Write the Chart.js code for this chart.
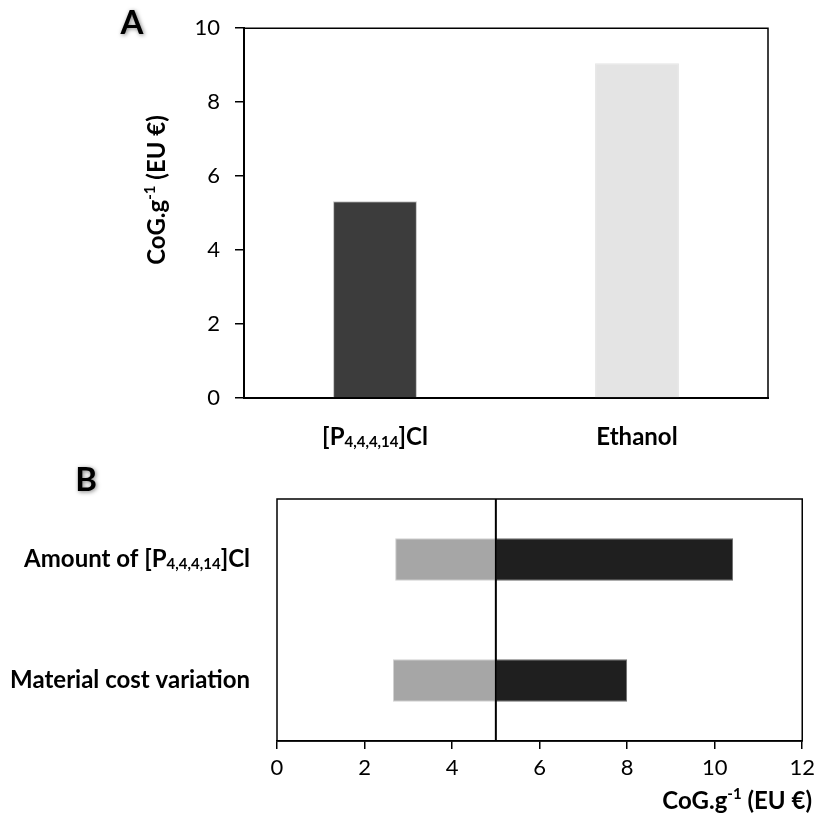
<!DOCTYPE html>
<html>
<head>
<meta charset="utf-8">
<script src="https://cdn.jsdelivr.net/npm/chart.js@4.4.0/dist/chart.umd.min.js"></script>
<style>
  html, body { margin: 0; padding: 0; background: #fff; }
  #wrap { position: relative; width: 821px; height: 820px; }
  .box { position: absolute; left: 0; width: 821px; }
  #boxA { top: 0; height: 460px; }
  #boxB { top: 460px; height: 360px; }
</style>
</head>
<body>
<div id="wrap">
  <div class="box" id="boxA"><canvas id="chartA"></canvas></div>
  <div class="box" id="boxB"><canvas id="chartB"></canvas></div>
</div>
<script>
// panel A - cost of goods per gram
const costLabels = ['[P_{4,4,4,14}]Cl', 'Ethanol'];
const costValues = [5.32, 9.05];
const costColors = ['#3c3c3c', '#e4e4e4'];
const costTicks = [0, 2, 4, 6, 8, 10];

// panel B - sensitivity (low / high around the base case)
const sensLabels = ['Amount of [P_{4,4,4,14}]Cl', 'Material cost variation'];
const sensBase = 5;
const sensLow = [2.7, 2.65];
const sensHigh = [10.42, 8.0];
const sensTicks = [0, 2, 4, 6, 8, 10, 12];

const axisTitle = 'CoG.g^{-1} (EU €)';

Chart.defaults.font.family = 'Lato';
Chart.defaults.color = '#000';

// split "text_{sub}" / "text^{sup}" into runs
function splitRuns(str) {
  const out = [];
  const re = /([_^])\{([^}]*)\}/g;
  let last = 0, m;
  while ((m = re.exec(str))) {
    if (m.index > last) out.push({ t: str.slice(last, m.index), k: '' });
    out.push({ t: m[2], k: m[1] });
    last = re.lastIndex;
  }
  if (last < str.length) out.push({ t: str.slice(last), k: '' });
  return out;
}

function richText(ctx, str, x, y, size, align) {
  const runs = splitRuns(str);
  const fontFor = k => 'bold ' + (k ? Math.round(size * 0.62) : size) + 'px Lato';
  let w = 0;
  runs.forEach(r => { ctx.font = fontFor(r.k); r.w = ctx.measureText(r.t).width; w += r.w; });
  let cx = align === 'right' ? x - w : align === 'center' ? x - w / 2 : x;
  ctx.textAlign = 'left';
  ctx.textBaseline = 'middle';
  ctx.fillStyle = '#000';
  runs.forEach(r => {
    ctx.font = fontFor(r.k);
    const dy = r.k === '_' ? size * 0.2 : r.k === '^' ? -size * 0.3 : 0;
    ctx.fillText(r.t, cx, y + dy);
    cx += r.w;
  });
}

function drawLetter(ctx, s, x, y) {
  ctx.save();
  ctx.font = 'bold 33px Lato';
  ctx.textAlign = 'center';
  ctx.textBaseline = 'middle';
  ctx.shadowColor = 'rgba(0,0,0,0.5)';
  ctx.shadowBlur = 4;
  ctx.shadowOffsetX = 1;
  ctx.shadowOffsetY = 1;
  ctx.fillStyle = '#000';
  ctx.fillText(s, x, y);
  ctx.restore();
}

const panelA = {
  id: 'panelA',
  afterDraw(chart) {
    const { ctx, chartArea: a, scales: { x } } = chart;
    ctx.save();
    ctx.strokeStyle = '#000';
    ctx.lineWidth = 1.5;
    ctx.beginPath();
    ctx.moveTo(a.left, a.top);
    ctx.lineTo(a.right, a.top);
    ctx.lineTo(a.right, a.bottom);
    ctx.stroke();
    costLabels.forEach((l, i) => richText(ctx, l, x.getPixelForTick(i), 437, 24, 'center'));
    ctx.translate(157, 190);
    ctx.rotate(-Math.PI / 2);
    richText(ctx, axisTitle, 0, 0, 24, 'center');
    ctx.restore();
    drawLetter(ctx, 'A', 132, 23);
  }
};

const panelB = {
  id: 'panelB',
  afterDraw(chart) {
    const { ctx, chartArea: a, scales: { x, y } } = chart;
    ctx.save();
    ctx.strokeStyle = '#000';
    ctx.lineWidth = 1.5;
    ctx.strokeRect(a.left, a.top, a.right - a.left, a.bottom - a.top);
    const bx = x.getPixelForValue(sensBase);
    ctx.lineWidth = 2;
    ctx.beginPath();
    ctx.moveTo(bx, a.top);
    ctx.lineTo(bx, a.bottom);
    ctx.stroke();
    sensLabels.forEach((l, i) => richText(ctx, l, 250, y.getPixelForTick(i), 24, 'right'));
    richText(ctx, axisTitle, 812, 341, 24, 'right');
    ctx.restore();
    drawLetter(ctx, 'B', 86, 20);
  }
};

new Chart(document.getElementById('chartA'), {
  type: 'bar',
  data: {
    labels: costLabels,
    datasets: [{
      data: costValues,
      backgroundColor: costColors,
      borderColor: ['#c4c4c4', '#e4e4e4'],
      borderWidth: 1,
      borderSkipped: 'bottom',
      barPercentage: 0.32,
      categoryPercentage: 1
    }]
  },
  options: {
    responsive: true,
    maintainAspectRatio: false,
    animation: false,
    layout: { padding: { top: 26, right: 53, left: 0, bottom: 0 } },
    plugins: { legend: { display: false }, tooltip: { enabled: false } },
    scales: {
      x: {
        grid: { display: false },
        border: { color: '#000', width: 2 },
        ticks: { display: false },
        afterFit: s => { s.height = 62; }
      },
      y: {
        min: 0,
        max: 10,
        afterBuildTicks: s => { s.ticks = costTicks.map(v => ({ value: v })); },
        grid: { drawOnChartArea: false, color: '#000', lineWidth: 1.5, tickLength: 9 },
        border: { color: '#000', width: 2 },
        ticks: { color: '#000', font: { size: 22 }, padding: 15 },
        afterFit: s => { s.width = 244; }
      }
    }
  },
  plugins: [panelA]
});

new Chart(document.getElementById('chartB'), {
  type: 'bar',
  data: {
    labels: sensLabels,
    datasets: [
      { data: sensLow.map(v => [v, sensBase]), backgroundColor: '#a6a6a6', borderColor: '#d2d2d2', borderWidth: 1 },
      { data: sensHigh.map(v => [sensBase, v]), backgroundColor: '#1f1f1f', borderColor: '#6e6e6e', borderWidth: 1 }
    ]
  },
  options: {
    indexAxis: 'y',
    responsive: true,
    maintainAspectRatio: false,
    animation: false,
    datasets: { bar: { grouped: false, barPercentage: 0.35, categoryPercentage: 1, borderSkipped: false } },
    layout: { padding: { top: 39, right: 15, left: 0, bottom: 0 } },
    plugins: { legend: { display: false }, tooltip: { enabled: false } },
    scales: {
      x: {
        min: 0,
        max: 12,
        afterBuildTicks: s => { s.ticks = sensTicks.map(v => ({ value: v })); },
        grid: { drawOnChartArea: false, color: '#000', lineWidth: 1.5, tickLength: 8 },
        border: { color: '#000', width: 1.5 },
        ticks: { color: '#000', font: { size: 22 }, padding: 6, maxRotation: 0 },
        afterFit: s => { s.height = 79; }
      },
      y: {
        grid: { display: false },
        border: { display: false },
        ticks: { display: false },
        afterFit: s => { s.width = 277; }
      }
    }
  },
  plugins: [panelB]
});
</script>
</body>
</html>
